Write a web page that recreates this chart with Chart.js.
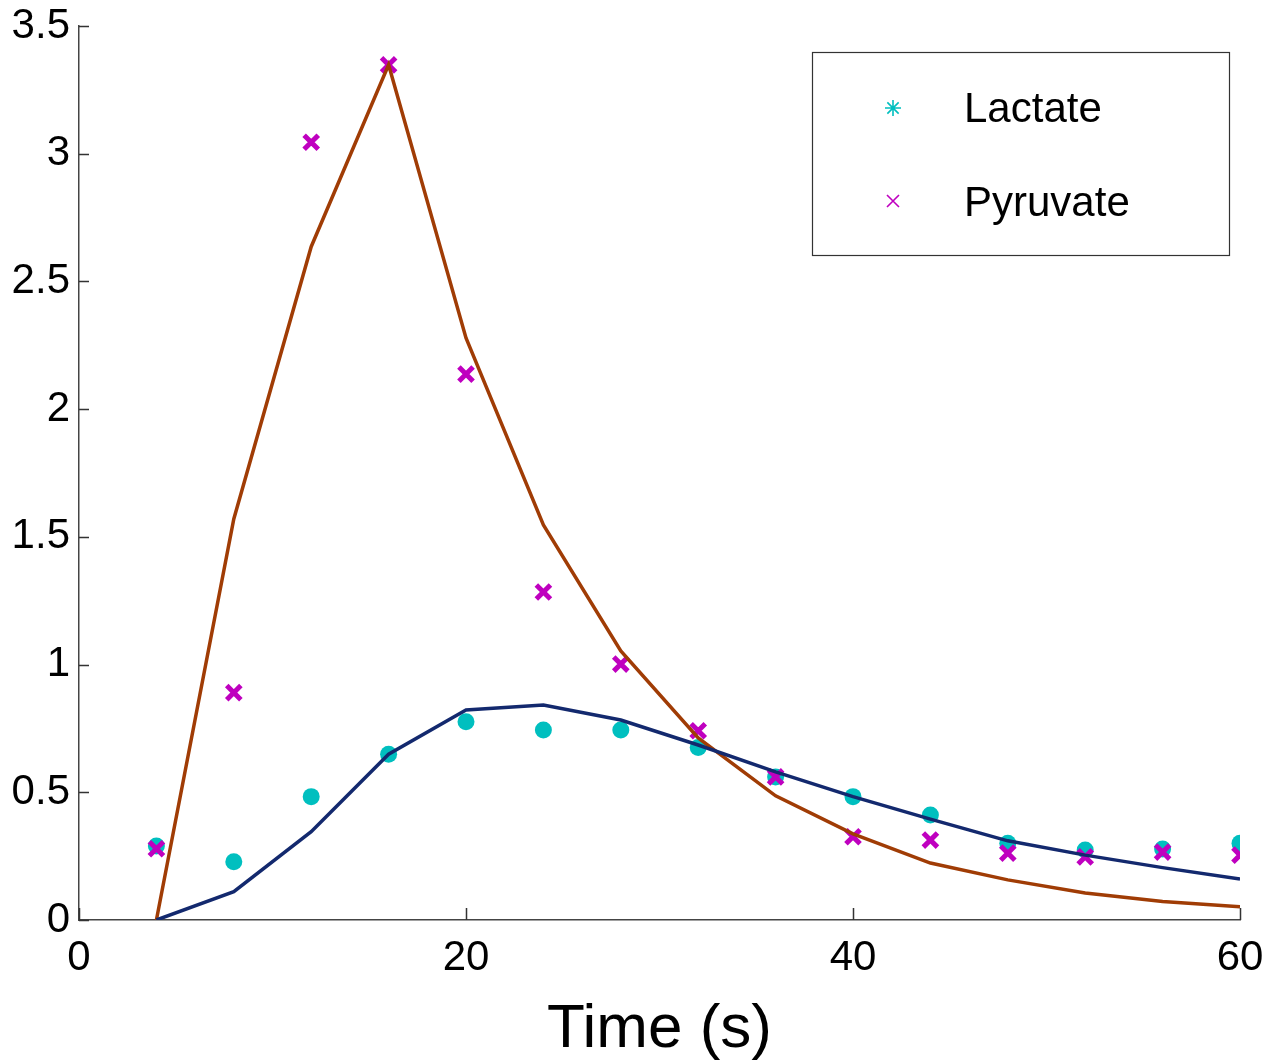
<!DOCTYPE html>
<html>
<head>
<meta charset="utf-8">
<script src="https://cdn.jsdelivr.net/npm/chart.js@4/dist/chart.umd.min.js"></script>
<style>
html,body{margin:0;padding:0;background:#fff}
#wrap{width:1280px;height:1063px}
</style>
</head>
<body>
<div id="wrap"><canvas id="c" width="1280" height="1063"></canvas></div>
<script>
const times=[4,8,12,16,20,24,28,32,36,40,44,48,52,56,60]
const lactate=[0.29,0.228,0.483,0.649,0.776,0.744,0.744,0.675,0.56,0.483,0.411,0.30,0.274,0.278,0.30]
const pyruvate=[0.279,0.89,3.045,3.348,2.137,1.284,1.002,0.741,0.56,0.326,0.313,0.262,0.247,0.266,0.254]
const lactateFit=[0,0.111,0.346,0.649,0.822,0.842,0.783,0.685,0.58,0.483,0.395,0.31,0.254,0.205,0.16]
const pyruvateFit=[0,1.57,2.636,3.348,2.279,1.547,1.053,0.713,0.486,0.337,0.223,0.157,0.106,0.072,0.052]
const xTicks=[0,20,40,60]
const yTicks=[0,0.5,1,1.5,2,2.5,3,3.5]
const legendNames=["Lactate","Pyruvate"]

const cyan="#00bfbf"
const magenta="#bf00bf"
const navy="#13296e"
const brown="#a03c05"
const font="'Liberation Sans', Arial, Helvetica, sans-serif"

function pts(ys){return times.map((t,i)=>({x:t,y:ys[i]}))}

// ticks point inward, and the legend is a boxed panel in the top right
const extras={
id:"extras",
afterDatasetsDraw(chart){
const ctx=chart.ctx
const xs=chart.scales.x, ys=chart.scales.y
const a=chart.chartArea
ctx.save()
ctx.strokeStyle="#333"
ctx.lineWidth=1.5
ctx.beginPath()
xTicks.forEach(v=>{
const px=Math.round(xs.getPixelForValue(v))+0.5
ctx.moveTo(px,a.bottom);ctx.lineTo(px,a.bottom-12)
})
yTicks.forEach(v=>{
const py=Math.round(ys.getPixelForValue(v))+0.5
ctx.moveTo(a.left,py);ctx.lineTo(a.left+10,py)
})
ctx.stroke()

// legend
const lx=812, ly=52, lw=417, lh=203
ctx.fillStyle="#fff"
ctx.fillRect(lx,ly,lw,lh)
ctx.strokeStyle="#333"
ctx.lineWidth=1.2
ctx.strokeRect(lx+0.5,ly+0.5,lw,lh)

ctx.lineWidth=1.6
ctx.strokeStyle=cyan
ctx.beginPath()
for(let k=0;k<4;k++){
const ang=k*Math.PI/4
ctx.moveTo(893-Math.cos(ang)*8,108-Math.sin(ang)*8)
ctx.lineTo(893+Math.cos(ang)*8,108+Math.sin(ang)*8)
}
ctx.stroke()
ctx.strokeStyle=magenta
ctx.beginPath()
ctx.moveTo(887,195);ctx.lineTo(899,207)
ctx.moveTo(899,195);ctx.lineTo(887,207)
ctx.stroke()

ctx.fillStyle="#000"
ctx.font="42px "+font
ctx.textBaseline="middle"
ctx.textAlign="left"
ctx.fillText(legendNames[0],964,110)
ctx.fillText(legendNames[1],964,204)
ctx.restore()
}
}

new Chart(document.getElementById("c"),{
type:"scatter",
data:{
datasets:[
{label:"Lactate fit",data:pts(lactateFit),showLine:true,borderColor:navy,borderWidth:3.5,pointRadius:0,order:0},
{label:"Pyruvate fit",data:pts(pyruvateFit),showLine:true,borderColor:brown,borderWidth:3.5,pointRadius:0,order:0},
{label:legendNames[1],data:pts(pyruvate),pointStyle:"crossRot",pointRadius:10,borderColor:magenta,borderWidth:5,backgroundColor:magenta,order:1},
{label:legendNames[0],data:pts(lactate),pointStyle:"circle",pointRadius:8.5,borderWidth:0,backgroundColor:cyan,borderColor:cyan,order:2}
]
},
options:{
responsive:false,
animation:false,
layout:{padding:{top:26,right:40,left:0,bottom:0}},
plugins:{legend:{display:false},tooltip:{enabled:false}},
scales:{
x:{
type:"linear",min:0,max:60,
afterFit(s){s.height=143},
afterBuildTicks(s){s.ticks=xTicks.map(v=>({value:v}))},
grid:{display:true,drawOnChartArea:false,drawTicks:false},
border:{color:"#444",width:1.5},
ticks:{color:"#000",font:{family:font,size:42},padding:13,maxRotation:0},
title:{display:true,text:"Time (s)",color:"#000",font:{family:font,size:62,lineHeight:1},padding:{top:0,bottom:2}}
},
y:{
type:"linear",min:0,max:3.5,
afterFit(s){s.width=79},
afterBuildTicks(s){s.ticks=yTicks.map(v=>({value:v}))},
grid:{display:true,drawOnChartArea:false,drawTicks:false},
border:{color:"#444",width:1.5},
ticks:{color:"#000",font:{family:font,size:42,lineHeight:0.6},padding:9,callback:v=>String(v)}
}
}
},
plugins:[extras]
})
</script>
</body>
</html>
